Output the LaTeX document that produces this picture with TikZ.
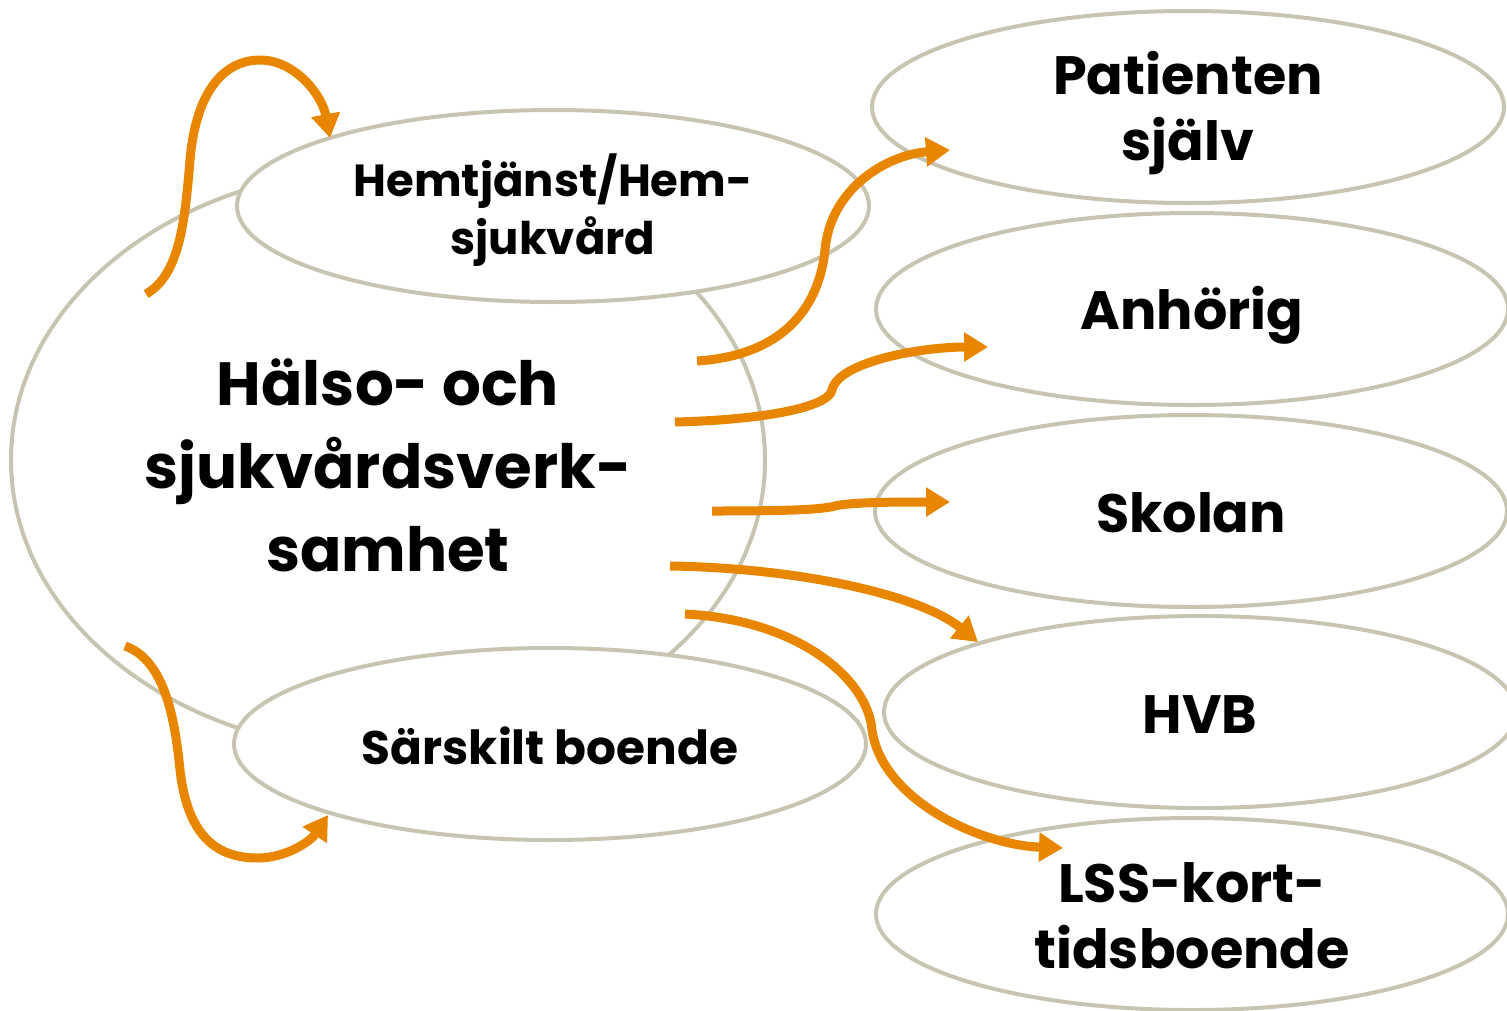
\documentclass[tikz,border=0pt]{standalone}
\usepackage{fontspec}
\setmainfont{Poppins}
\usepackage{xcolor}
\usepackage{tikz}
\usetikzlibrary{shapes.geometric,arrows.meta}

\definecolor{rim}{RGB}{200,196,178}
\definecolor{flowor}{RGB}{232,134,0}

\tikzset{
  bubble/.style={ellipse, draw=rim, line width=4pt, fill=white, inner sep=0pt,
    minimum width=632pt, minimum height=192pt},
  flow/.style={draw=flowor, line width=9pt, -{Triangle[length=24pt,width=28pt]}},
  txt/.style={align=center, inner sep=0pt},
  bigtxt/.style={txt, font=\bfseries\fontsize{61}{83}\selectfont},
  midtxt/.style={txt, font=\bfseries\fontsize{54}{66}\selectfont},
  smalltxt/.style={txt, font=\bfseries\fontsize{45}{58}\selectfont}
}

\begin{document}
\begin{tikzpicture}[x=1pt,y=-1pt]
  \useasboundingbox (0,0) rectangle (1507,1010);
  % main circle
  \node[bubble, fill=none, minimum width=754pt, minimum height=584pt] (hs) at (388,460) {};
  \node[bubble] (hem) at (553,206) {};
  \node[bubble] (sb) at (550,744) {};
  % receivers
  \node[bubble] (pat) at (1188,107) {};
  \node[bubble] (anh) at (1192,309) {};
  \node[bubble] (sko) at (1191,511) {};
  \node[bubble] (hvb) at (1200,712) {};
  \node[bubble] (lss) at (1192,914) {};
  % texts
  \node[bigtxt] (hsT) at ([yshift=-5pt]hs.center) {Hälso- och\\sjukvårdsverk-\\samhet};
  \node[smalltxt] (hemT) at ([yshift=-4pt]hem.center) {Hemtjänst/Hem-\\sjukvård};
  \node[smalltxt, font=\bfseries\fontsize{47}{58}\selectfont] (sbT) at ([yshift=-2pt]sb.center) {Särskilt boende};
  \node[midtxt] (patT) at ([yshift=-6pt]pat.center) {Patienten\\själv};
  \node[midtxt] (anhT) at ([yshift=-6pt]anh.center) {Anhörig};
  \node[midtxt] (skoT) at ([yshift=-2pt]sko.center) {Skolan};
  \node[midtxt] (hvbT) at ([yshift=-3pt]hvb.center) {HVB};
  \node[midtxt] (lssT) at ([yshift=-2pt]lss.center) {LSS-kort-\\tidsboende};
  % arrow ends
  \coordinate (a1) at (146,294);
  \coordinate (b1) at (330,138);
  \coordinate (a2) at (697,361);
  \coordinate (b2) at (950,150);
  \coordinate (a3) at (675,422);
  \coordinate (b3) at (988,347);
  \coordinate (a4) at (712,511);
  \coordinate (b4) at (950,502);
  \coordinate (a5) at (670,566);
  \coordinate (b5) at (978,642);
  \coordinate (a6) at (685,614);
  \coordinate (b6) at (1063,848);
  \coordinate (a7) at (125,646);
  \coordinate (b7) at (328,815);
  \draw[flow] (a1) .. controls (180,275) and (185,220) .. (190,160)
    .. controls (196,90) and (225,60) .. (260,60) .. controls (295,60) and (322,95) .. (b1);
  \draw[flow] (a2) .. controls (790,355) and (820,300) .. (825,250)
    .. controls (830,190) and (885,155) .. (b2);
  \draw[flow] (a3) .. controls (760,420) and (828,408) .. (832,390)
    .. controls (838,362) and (920,347) .. (b3);
  \draw[flow] (a4) .. controls (780,511) and (820,510) .. (835,506)
    .. controls (850,502) and (900,502) .. (b4);
  \draw[flow] (a5) .. controls (800,568) and (920,595) .. (b5);
  \draw[flow] (a6) .. controls (800,620) and (868,680) .. (872,730)
    .. controls (882,800) and (980,845) .. (b6);
  \draw[flow] (a7) .. controls (165,660) and (175,720) .. (180,770)
    .. controls (188,840) and (220,858) .. (258,858) .. controls (285,858) and (310,842) .. (b7);
\end{tikzpicture}
\end{document}
